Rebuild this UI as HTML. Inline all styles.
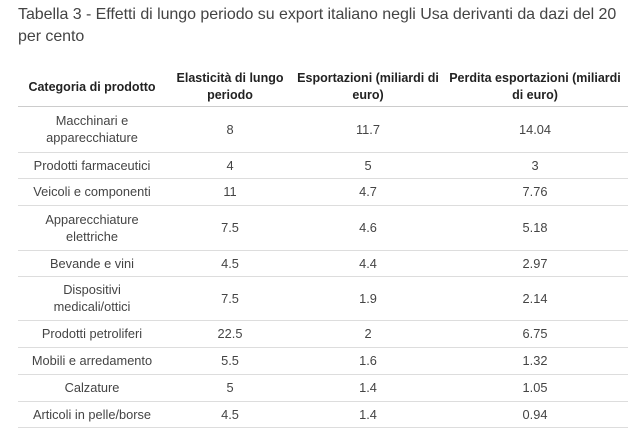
<!DOCTYPE html>
<html><head><meta charset="utf-8"><style>
body{margin:0;background:#fff;width:636px;height:442px;overflow:hidden;font-family:"Liberation Sans",sans-serif;color:#333}
#title{position:absolute;left:18px;top:4px;font-size:16px;line-height:22px;color:#444;width:618px;letter-spacing:-0.05px;white-space:nowrap}
.cell{position:absolute;display:flex;align-items:center;justify-content:center;text-align:center;font-size:12.8px;line-height:17px;color:#444}
.hd{font-weight:bold;color:#222;font-size:12.5px;line-height:17px}
.line{position:absolute;left:18px;width:610px;height:1px;background:#ddd}
</style></head><body>
<div id="title">Tabella 3 - Effetti di lungo periodo su export italiano negli Usa derivanti da dazi del 20<br>per cento</div>
<div id="tbl"></div>
<script>
const categories=["Macchinari e<br>apparecchiature","Prodotti farmaceutici","Veicoli e componenti","Apparecchiature<br>elettriche","Bevande e vini","Dispositivi<br>medicali/ottici","Prodotti petroliferi","Mobili e arredamento","Calzature","Articoli in pelle/borse"];
const elasticity=["8","4","11","7.5","4.5","7.5","22.5","5.5","5","4.5"];
const exportsVal=["11.7","5","4.7","4.6","4.4","1.9","2","1.6","1.4","1.4"];
const losses=["14.04","3","7.76","5.18","2.97","2.14","6.75","1.32","1.05","0.94"];
const headers=["Categoria di prodotto","Elasticità di lungo<br>periodo","Esportazioni (miliardi di<br>euro)","Perdita esportazioni (miliardi<br>di euro)"];
const colX=[18,166,294,442,628];
const rowH=[46,26,27,45,26,44,27,27,27,26];
const t=document.getElementById('tbl');
function cell(html,x0,x1,y0,y1,cls){const d=document.createElement('div');d.className='cell '+(cls||'');d.innerHTML=html;d.style.left=x0+'px';d.style.width=(x1-x0)+'px';d.style.top=y0+'px';d.style.height=(y1-y0)+'px';t.appendChild(d);return d;}
headers.forEach((h,i)=>{const d=cell(h,colX[i],colX[i+1],68,106,'hd');

});
let y=106;
function line(yy,c){const l=document.createElement('div');l.className='line';l.style.top=yy+'px';if(c)l.style.background=c;


t.appendChild(l);}
line(y,'#ccc');
categories.forEach((c,i)=>{const y1=y+rowH[i];
[c,elasticity[i],exportsVal[i],losses[i]].forEach((v,j)=>{const d=cell(v,colX[j],colX[j+1],y,y1);

});
y=y1;line(y);});
</script>
</body></html>
